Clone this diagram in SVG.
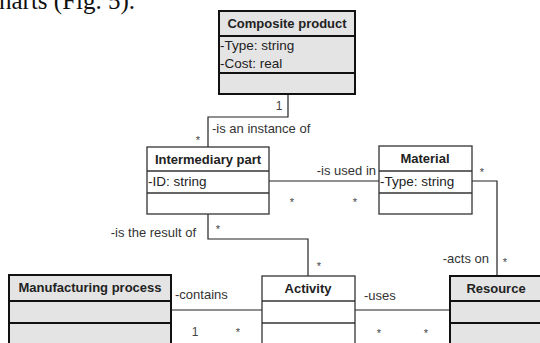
<svg xmlns="http://www.w3.org/2000/svg" width="540" height="343" viewBox="0 0 540 343">
<style>
.bg{fill:#fff}
.thin{fill:#fff;stroke:#333;stroke-width:1.3}
.thick{fill:#e4e4e4;stroke:#111;stroke-width:2}
.title{font-family:"Liberation Sans",Arial,sans-serif;font-size:13px;font-weight:bold;fill:#222;text-anchor:middle}
.attr{font-family:"Liberation Sans",Arial,sans-serif;font-size:13.5px;fill:#222}
.lbl{font-family:"Liberation Sans",Arial,sans-serif;font-size:13px;fill:#333}
.mult{font-family:"Liberation Sans",Arial,sans-serif;font-size:11px;fill:#444;text-anchor:middle}
.conn{fill:none;stroke:#222;stroke-width:1.2}
</style>
<rect class="bg" x="0" y="0" width="540" height="343"/>
<text x="-1" y="9" style="font-family:'Liberation Serif','Times New Roman',serif;font-size:25px;fill:#111">harts (Fig. 5).</text>

<g id="connectors">
  <polyline class="conn" points="288,94 288,117 208,117 208,147"/>
  <line class="conn" x1="269" y1="181" x2="379" y2="181"/>
  <polyline class="conn" points="472,181 497,181 497,276"/>
  <polyline class="conn" points="208,214 208,239 308,239 308,276"/>
  <line class="conn" x1="171" y1="310" x2="262" y2="310"/>
  <line class="conn" x1="355" y1="310" x2="450" y2="310"/>
  <text class="mult" x="279" y="110" style="font-size:12px">1</text>
  <text class="lbl" x="212" y="133">-is an instance of</text>
  <text class="mult" x="198" y="144">*</text>
  <text class="lbl" x="376" y="175" text-anchor="end">-is used in</text>
  <text class="mult" x="292" y="206">*</text>
  <text class="mult" x="355" y="206">*</text>
  <text class="mult" x="482" y="176">*</text>
  <text class="lbl" x="489" y="263" text-anchor="end">-acts on</text>
  <text class="mult" x="505" y="266">*</text>
  <text class="lbl" x="196" y="237" text-anchor="end">-is the result of</text>
  <text class="mult" x="218" y="233">*</text>
  <text class="mult" x="319" y="270">*</text>
  <text class="lbl" x="175" y="299">-contains</text>
  <text class="mult" x="195" y="336" style="font-size:12px">1</text>
  <text class="mult" x="238" y="336">*</text>
  <text class="lbl" x="364" y="300">-uses</text>
  <text class="mult" x="379" y="337">*</text>
  <text class="mult" x="426" y="337">*</text>
</g>

<g id="composite-product">
  <rect class="thick" x="219" y="11" width="136" height="83"/>
  <line class="thick" x1="219" y1="36" x2="355" y2="36"/>
  <line class="thick" x1="219" y1="73" x2="355" y2="73"/>
  <text class="title" x="287" y="28">Composite product</text>
  <text class="attr" x="220" y="50">-Type: string</text>
  <text class="attr" x="220" y="68">-Cost: real</text>
</g>

<g id="intermediary-part">
  <rect class="thin" x="147" y="147" width="122" height="67"/>
  <line class="thin" x1="147" y1="171" x2="269" y2="171"/>
  <line class="thin" x1="147" y1="193" x2="269" y2="193"/>
  <text class="title" x="208" y="164">Intermediary part</text>
  <text class="attr" x="148" y="186">-ID: string</text>
</g>

<g id="material">
  <rect class="thin" x="379" y="146" width="93" height="68"/>
  <line class="thin" x1="379" y1="171" x2="472" y2="171"/>
  <line class="thin" x1="379" y1="193" x2="472" y2="193"/>
  <text class="title" x="425" y="163">Material</text>
  <text class="attr" x="380" y="186">-Type: string</text>
</g>

<g id="manufacturing-process">
  <rect class="thick" x="9" y="275" width="162" height="80"/>
  <line class="thick" x1="9" y1="301" x2="171" y2="301"/>
  <line class="thick" x1="9" y1="323" x2="171" y2="323"/>
  <text class="title" x="90" y="292">Manufacturing process</text>
</g>

<g id="activity">
  <rect class="thin" x="262" y="276" width="93" height="80"/>
  <line class="thin" x1="262" y1="301" x2="355" y2="301"/>
  <line class="thin" x1="262" y1="323" x2="355" y2="323"/>
  <text class="title" x="308" y="293">Activity</text>
</g>

<g id="resource">
  <rect class="thick" x="450" y="276" width="93" height="80"/>
  <line class="thick" x1="450" y1="301" x2="543" y2="301"/>
  <line class="thick" x1="450" y1="323" x2="543" y2="323"/>
  <text class="title" x="496" y="293">Resource</text>
</g>
</svg>
